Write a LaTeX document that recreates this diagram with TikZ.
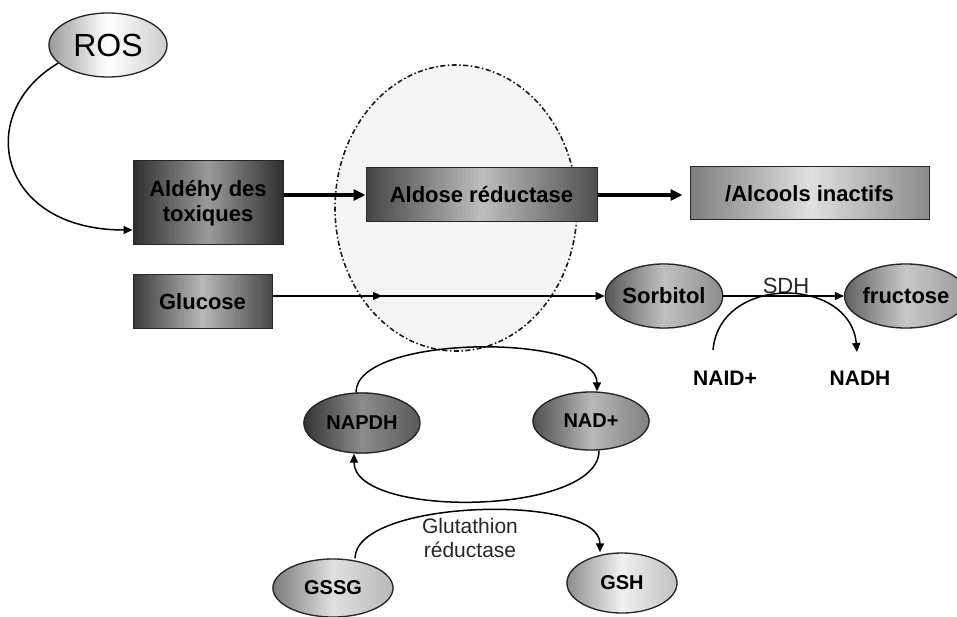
\documentclass[tikz,border=0pt]{standalone}
\usepackage{fontspec}
\setmainfont{Liberation Sans}
\usetikzlibrary{arrows.meta,shapes.geometric,decorations.markings,calc}
\pgfdeclarelayer{zonelayer}
\pgfdeclarelayer{gradlayer}
\pgfsetlayers{zonelayer,gradlayer,main}
\definecolor{aldE}{HTML}{2E2E2E}
\definecolor{aldM}{HTML}{9A9A9A}
\definecolor{arL}{HTML}{444444}
\definecolor{arM}{HTML}{BEBEBE}
\definecolor{arR}{HTML}{4E4E4E}
\definecolor{alcL}{HTML}{7E7E7E}
\definecolor{alcM}{HTML}{E0E0E0}
\definecolor{alcR}{HTML}{8A8A8A}
\definecolor{gluL}{HTML}{3A3A3A}
\definecolor{gluM}{HTML}{B8B8B8}
\definecolor{gluR}{HTML}{464646}
\definecolor{rosL}{HTML}{9A9A9A}
\definecolor{rosM}{HTML}{FFFFFF}
\definecolor{rosR}{HTML}{CCCCCC}
\definecolor{sorL}{HTML}{555555}
\definecolor{sorM}{HTML}{C0C0C0}
\definecolor{sorR}{HTML}{8C8C8C}
\definecolor{fruL}{HTML}{606060}
\definecolor{fruM}{HTML}{C8C8C8}
\definecolor{fruR}{HTML}{999999}
\definecolor{napL}{HTML}{333333}
\definecolor{napM}{HTML}{8C8C8C}
\definecolor{napR}{HTML}{595959}
\definecolor{nadL}{HTML}{4D4D4D}
\definecolor{nadM}{HTML}{B8B8B8}
\definecolor{nadR}{HTML}{808080}
\definecolor{gsgL}{HTML}{7A7A7A}
\definecolor{gsgM}{HTML}{E0E0E0}
\definecolor{gsgR}{HTML}{B8B8B8}
\definecolor{gshL}{HTML}{8C8C8C}
\definecolor{gshM}{HTML}{F0F0F0}
\definecolor{gshR}{HTML}{C0C0C0}
% strips of a left-middle-right gradient over the bounding box of node #1
\newcommand{\gradstrips}[4]{%
  \foreach \i in {0,...,59}{%
    \pgfmathsetmacro\gta{\i/60}%
    \pgfmathsetmacro\gtb{min(1,(\i+1.5)/60)}%
    \pgfmathsetmacro\gtc{(\i+0.5)/60}%
    \ifdim\gtc pt<0.5pt
      \pgfmathtruncatemacro\gpp{200*\gtc}%
      \colorlet{stripcol}{#3!\gpp!#2}%
    \else
      \pgfmathtruncatemacro\gpp{200*(\gtc-0.5)}%
      \colorlet{stripcol}{#4!\gpp!#3}%
    \fi
    \fill[stripcol] ($(#1.west |- #1.south)!\gta!(#1.east |- #1.south)$)
      rectangle ($(#1.west |- #1.north)!\gtb!(#1.east |- #1.north)$);
  }}
\newcommand{\gradbox}[4]{\begin{pgfonlayer}{gradlayer}\gradstrips{#1}{#2}{#3}{#4}\end{pgfonlayer}}
\newcommand{\gradell}[4]{\begin{pgfonlayer}{gradlayer}\begin{scope}
  \path let \p1=($(#1.east)-(#1.center)$), \p2=($(#1.north)-(#1.center)$) in
    [clip] (#1.center) ellipse [x radius=\x1, y radius=\y2];
  \gradstrips{#1}{#2}{#3}{#4}\end{scope}\end{pgfonlayer}}
\begin{document}
\begin{tikzpicture}[x=1pt,y=1pt,
  lbl/.style={font=\fontsize{22}{25}\selectfont\bfseries, text=black},
  small lbl/.style={font=\fontsize{20}{23}\selectfont\bfseries, text=black},
  boxnode/.style={rectangle, draw=black!85, line width=1pt, inner sep=0pt, lbl, align=center},
  ellnode/.style={ellipse, draw=black!85, line width=1.3pt, inner sep=0pt, lbl},
  thick arrow/.style={line width=3.5pt, -{Triangle[length=12pt,width=11pt]}},
  thin arrow/.style={line width=1.5pt, -{Triangle[length=9pt,width=8pt]}},
  plain/.style={font=\fontsize{22}{25}\selectfont, text=black!85},
  midarrow/.style={postaction={decorate}, decoration={markings, mark=at position #1 with {\arrow{Triangle[length=9pt,width=8pt]}}}}
]
\useasboundingbox (0,0) rectangle (957,-617);

% aldose reductase zone
\begin{pgfonlayer}{zonelayer}
\node[ellipse, minimum width=242, minimum height=286, inner sep=0pt, fill=black!4,
      draw=black!90, line width=1.6pt, dash pattern=on 5pt off 2.5pt on 1.5pt off 2.5pt] (zone) at (456,-208) {};
\end{pgfonlayer}

% boxes
\node[boxnode, minimum width=150, minimum height=84] (ald) at (208,-203) {Ald\'ehy des\\toxiques};
\node[boxnode, minimum width=231, minimum height=54] (ar) at (481.5,-195) {Aldose r\'eductase};
\node[boxnode, minimum width=239, minimum height=53] (alc) at (809.5,-193.5) {/Alcools inactifs};
\node[boxnode, minimum width=139, minimum height=53] (glu) at (202.5,-301.5) {Glucose};
\gradbox{ald}{aldE}{aldM}{aldE}
\gradbox{ar}{arL}{arM}{arR}
\gradbox{alc}{alcL}{alcM}{alcR}
\gradbox{glu}{gluL}{gluM}{gluR}

% ellipses
\node[ellnode, minimum width=118, minimum height=64, font=\fontsize{32}{35}\selectfont] (ros) at (108,-45) {ROS};
\node[ellnode, minimum width=116, minimum height=64] (sor) at (664,-296) {Sorbitol};
\node[ellnode, minimum width=104, minimum height=64] (fru) at (906,-296) {fructose};
\node[ellnode, minimum width=116, minimum height=60, small lbl] (napdh) at (362,-423) {NAPDH};
\node[ellnode, minimum width=116, minimum height=58, small lbl] (nad) at (591,-421) {NAD+};
\node[ellnode, minimum width=120, minimum height=58, small lbl] (gssg) at (333,-588) {GSSG};
\node[ellnode, minimum width=110, minimum height=60, small lbl] (gsh) at (622,-583) {GSH};
\gradell{ros}{rosL}{rosM}{rosR}
\gradell{sor}{sorL}{sorM}{sorR}
\gradell{fru}{fruL}{fruM}{fruR}
\gradell{napdh}{napL}{napM}{napR}
\gradell{nad}{nadL}{nadM}{nadR}
\gradell{gssg}{gsgL}{gsgM}{gsgR}
\gradell{gsh}{gshL}{gshM}{gshR}

% plain labels
\node[plain] (sdh) at (786,-286) {SDH};
\node[lbl, font=\fontsize{21}{24}\selectfont\bfseries] (naid) at (725,-378) {NAID+};
\node[lbl, font=\fontsize{21}{24}\selectfont\bfseries] (nadh) at (860,-378) {NADH};
\node[plain, align=center, font=\fontsize{21}{24}\selectfont] (gr) at (470,-538) {Glutathion\\r\'eductase};

% connectors
\draw[thin arrow] (ros.200) .. controls +(-85,-50) and +(-135,0) .. ([yshift=-27pt]ald.west);
\draw[thick arrow] (ald.east |- ar.west) -- (ar.west);
\coordinate (alcin) at ([xshift=-7pt]alc.west);
\draw[thick arrow] (ar.east) -- (ar.east -| alcin);
\draw[thin arrow, midarrow=0.33] (glu.east |- sor.west) -- (sor.west);
\draw[thin arrow] (sor.east) -- (fru.west);

\coordinate (sdhA) at (713,-350);
\coordinate (sdhB) at (857,-352);
\draw[thin arrow] (sdhA) to[out=85,in=95,looseness=1.35] (sdhB);

\draw[thin arrow] ([xshift=-6pt]napdh.north) to[out=90,in=90,looseness=0.62] ([xshift=6pt]nad.north);
\draw[thin arrow] ([xshift=8pt]nad.south) to[out=-90,in=-90,looseness=0.68] ([xshift=-8pt]napdh.south);
\draw[thin arrow] ([xshift=22pt]gssg.north) to[out=90,in=90,looseness=0.62] ([xshift=-22pt]gsh.north);
\end{tikzpicture}
\end{document}
